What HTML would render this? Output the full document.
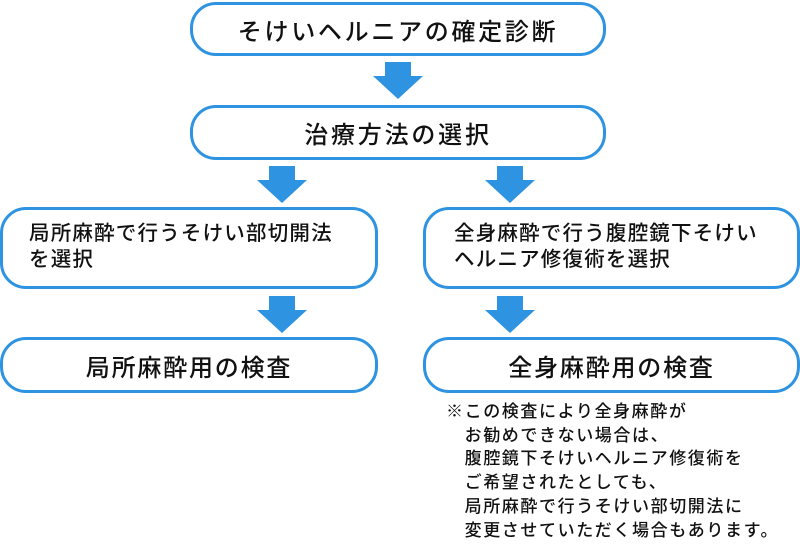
<!DOCTYPE html>
<html><head><meta charset="utf-8"><style>
body{margin:0;width:800px;height:551px;background:#fff;position:relative;overflow:hidden;font-family:"Liberation Sans","Noto Sans CJK JP",sans-serif;color:#111;font-weight:500}
.b{position:absolute;box-sizing:border-box;border:3px solid #2e93e0;border-radius:26px;background:#fff}
.c{display:flex;align-items:center;justify-content:center;white-space:nowrap}
.a{position:absolute;width:50px;height:38px}
.n{position:absolute;left:446px;top:400px;font-size:17px;line-height:23.7px;letter-spacing:1.6px;white-space:nowrap}
</style></head><body>
<div class="b c" style="left:190px;top:2px;width:416px;height:54px;font-size:24px;letter-spacing:2.7px">そけいヘルニアの確定診断</div>
<div class="b c" style="left:190px;top:105px;width:416px;height:55px;font-size:24px;letter-spacing:2.8px">治療方法の選択</div>
<div class="b" style="left:0;top:207px;width:378px;height:82px;font-size:20.5px;letter-spacing:1.2px;line-height:26px;padding:11px 0 0 26px">局所麻酔で行うそけい部切開法<br>を選択</div>
<div class="b" style="left:423px;top:207px;width:377px;height:82px;font-size:20.5px;letter-spacing:1.2px;line-height:26px;padding:11px 0 0 28px">全身麻酔で行う腹腔鏡下そけい<br>ヘルニア修復術を選択</div>
<div class="b c" style="left:0;top:337px;width:378px;height:56px;font-size:24px;letter-spacing:1.8px">局所麻酔用の検査</div>
<div class="b c" style="left:423px;top:337px;width:377px;height:56px;font-size:24px;letter-spacing:1.8px">全身麻酔用の検査</div>
<svg class="a" style="left:373px;top:62px" viewBox="0 0 50 38"><polygon points="12,0 38,0 38,14 50,14 25,37 0,14 12,14" fill="#2e93e0"/></svg>
<svg class="a" style="left:257px;top:166px" viewBox="0 0 50 38"><polygon points="12,0 38,0 38,14 50,14 25,37 0,14 12,14" fill="#2e93e0"/></svg>
<svg class="a" style="left:485px;top:166px" viewBox="0 0 50 38"><polygon points="12,0 38,0 38,14 50,14 25,37 0,14 12,14" fill="#2e93e0"/></svg>
<svg class="a" style="left:257px;top:296px" viewBox="0 0 50 38"><polygon points="12,0 38,0 38,14 50,14 25,37 0,14 12,14" fill="#2e93e0"/></svg>
<svg class="a" style="left:485px;top:296px" viewBox="0 0 50 38"><polygon points="12,0 38,0 38,14 50,14 25,37 0,14 12,14" fill="#2e93e0"/></svg>
<div class="n">※この検査により全身麻酔が<br>&#12288;お勧めできない場合は、<br>&#12288;腹腔鏡下そけいヘルニア修復術を<br>&#12288;ご希望されたとしても、<br>&#12288;局所麻酔で行うそけい部切開法に<br>&#12288;変更させていただく場合もあります。</div>
</body></html>
